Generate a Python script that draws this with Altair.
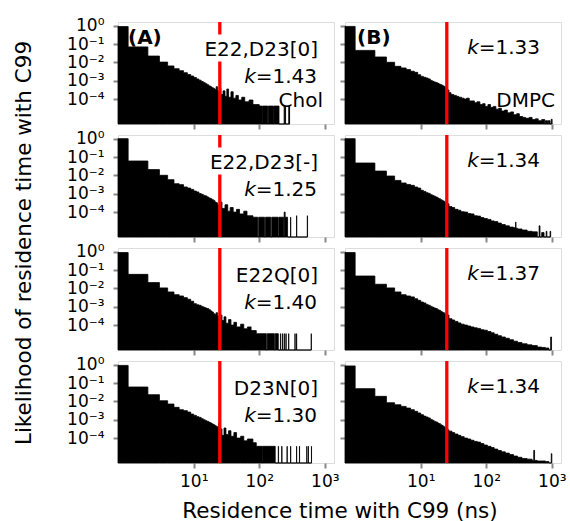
import math
import altair as alt
import pandas as pd

# Axis limits: residence time in ns (x), likelihood exponent (y)
X_LIMITS = [0.7, 1380]
Y_LIMIT_EXP = [-5.36, 0.21]
X_TICKS = [10, 100, 1000]
Y_TICKS = [1, 0.1, 0.01, 0.001, 0.0001]
CUTOFF_NS = 25

LEFT_LABELS = ["E22,D23[0]", "E22,D23[-]", "E22Q[0]", "D23N[0]"]
LEFT_K = ["1.43", "1.25", "1.40", "1.30"]
RIGHT_K = ["1.33", "1.34", "1.37", "1.34"]

# log10 likelihood of the 1-ns bins 0-1, 1-2, ..., 24-25 ns
A1_HEAD = [-0.04, -1.15, -1.65, -1.98, -2.19, -2.34, -2.45, -2.56, -2.66, -2.74, -2.82, -2.90, -2.97,
           -3.04, -3.10, -3.16, -3.22, -3.28, -3.33, -3.38, -3.42, -3.48, -3.32, -3.55, -3.65]
A2_HEAD = [0.01, -1.21, -1.68, -1.99, -2.23, -2.45, -2.50, -2.63, -2.69, -2.76, -2.85, -2.90, -2.99,
           -3.03, -3.09, -3.12, -3.18, -3.23, -3.27, -3.32, -3.36, -3.45, -3.49, -3.60, -3.72]
A3_HEAD = [-0.04, -1.23, -1.68, -1.97, -2.19, -2.34, -2.41, -2.50, -2.59, -2.70, -2.83, -2.89, -2.92,
           -2.98, -3.03, -3.07, -3.10, -3.16, -3.23, -3.29, -3.38, -3.41, -3.32, -3.50, -3.61]
A4_HEAD = [-0.03, -1.21, -1.63, -1.96, -2.14, -2.32, -2.45, -2.50, -2.58, -2.69, -2.76, -2.83, -2.87,
           -2.94, -3.00, -3.05, -3.09, -3.14, -3.18, -3.23, -3.27, -3.32, -3.36, -3.41, -3.18]
B1_HEAD = [-0.03, -1.34, -1.70, -1.99, -2.21, -2.30, -2.39, -2.48, -2.54, -2.67, -2.76, -2.81, -2.85,
           -2.90, -2.98, -3.03, -3.07, -3.10, -3.14, -3.18, -3.21, -3.25, -3.29, -3.32, -3.36]
B2_HEAD = [0.01, -1.32, -1.76, -2.03, -2.27, -2.41, -2.49, -2.54, -2.63, -2.69, -2.81, -2.87, -2.94,
           -2.98, -3.05, -3.09, -3.14, -3.18, -3.23, -3.27, -3.32, -3.36, -3.40, -3.45, -3.51]
B3_HEAD = [-0.04, -1.32, -1.77, -1.97, -2.19, -2.34, -2.41, -2.46, -2.56, -2.65, -2.74, -2.79, -2.87,
           -2.92, -2.98, -3.03, -3.07, -3.10, -3.16, -3.19, -3.25, -3.29, -3.32, -3.38, -3.43]
B4_HEAD = [-0.06, -1.30, -1.72, -2.07, -2.18, -2.27, -2.36, -2.45, -2.54, -2.63, -2.72, -2.80, -2.85,
           -2.90, -2.98, -3.03, -3.09, -3.12, -3.18, -3.21, -3.27, -3.31, -3.36, -3.42, -3.49]

# (start ns, end ns, log10 likelihood) for the long-residence tail
A1_TAIL = [(25, 26, -3.40), (26, 28, -3.75), (28, 30, -3.55), (30, 32, -3.85), (32, 34, -3.45),
           (34, 37, -3.90), (37, 40, -3.60), (40, 44, -3.95), (44, 48, -3.80), (48, 54, -4.05),
           (54, 60, -3.90), (60, 70, -4.15), (70, 80, -4.05), (80, 100, -4.30), (100, 110, -4.38),
           (112, 135, -4.38), (138, 165, -4.38), (168, 200, -4.38), (240, 242, -4.38),
           (250, 252, -4.38), (283, 284, -4.38), (289, 290, -4.38)]
A2_TAIL = [(25, 27, -3.45), (27, 30, -3.80), (30, 33, -3.60), (33, 36, -3.95), (36, 40, -3.75),
           (40, 45, -4.00), (45, 50, -3.85), (50, 58, -4.10), (58, 65, -3.95), (65, 80, -4.20),
           (80, 95, -4.28), (98, 120, -4.28), (124, 150, -4.28), (155, 195, -4.28),
           (200, 235, -4.28), (240, 248, -4.00), (248, 270, -4.28), (300, 302, -4.28),
           (370, 373, -4.20), (540, 545, -4.20)]
A3_TAIL = [(25, 27, -3.45), (27, 29, -3.75), (29, 31, -3.55), (31, 34, -3.90), (34, 37, -3.70),
           (37, 41, -4.00), (41, 45, -3.85), (45, 52, -4.10), (52, 58, -3.95), (58, 66, -4.20),
           (66, 75, -4.10), (75, 90, -4.30), (90, 128, -4.47), (132, 170, -4.47),
           (175, 195, -4.47), (210, 212, -4.47), (225, 227, -4.47), (240, 242, -4.47),
           (255, 257, -4.47), (280, 282, -4.47), (350, 352, -4.47), (370, 372, -4.47),
           (620, 623, -4.47)]
A4_TAIL = [(25, 27, -3.50), (27, 29, -3.85), (29, 31, -3.45), (31, 34, -3.80), (34, 37, -3.60),
           (37, 41, -3.90), (41, 45, -3.70), (45, 52, -4.00), (52, 58, -3.90), (58, 66, -4.15),
           (66, 80, -4.05), (80, 90, -4.25), (90, 110, -4.45), (112, 175, -4.45),
           (195, 197, -4.45), (220, 222, -4.45), (265, 267, -4.45), (300, 302, -4.45),
           (370, 372, -4.45), (410, 412, -4.45), (530, 532, -4.45), (560, 562, -4.45),
           (625, 627, -4.45)]
B1_TAIL = [(25, 27, -3.50), (27, 29, -3.65), (29, 32, -3.75), (32, 35, -3.80), (35, 38, -3.85),
           (38, 42, -3.90), (42, 46, -3.95), (46, 50, -4.00), (50, 55, -3.95), (55, 60, -4.10),
           (60, 66, -4.10), (66, 72, -4.20), (72, 80, -4.15), (80, 88, -4.30), (88, 96, -4.25),
           (96, 106, -4.40), (106, 116, -4.30), (116, 128, -4.45), (128, 140, -4.40),
           (140, 155, -4.55), (155, 170, -4.50), (170, 190, -4.65), (190, 210, -4.60),
           (210, 235, -4.75), (235, 260, -4.70), (260, 290, -4.85), (290, 320, -4.80),
           (320, 360, -4.95), (360, 400, -5.00), (400, 450, -5.05), (450, 500, -5.00),
           (500, 560, -5.12), (560, 620, -5.08), (620, 700, -5.18), (700, 780, -5.12),
           (800, 860, -5.18), (880, 940, -5.18), (980, 1010, -5.10)]
B2_TAIL = [(25, 27, -3.55), (27, 30, -3.70), (30, 33, -3.75), (33, 37, -3.85), (37, 41, -3.90),
           (41, 46, -3.98), (46, 52, -4.00), (52, 58, -4.08), (58, 65, -4.10), (65, 73, -4.20),
           (73, 82, -4.22), (82, 92, -4.30), (92, 104, -4.35), (104, 118, -4.40),
           (118, 132, -4.48), (132, 150, -4.52), (150, 170, -4.60), (170, 195, -4.68),
           (195, 225, -4.75), (225, 260, -4.82), (260, 280, -4.85), (280, 284, -4.55),
           (284, 300, -4.88), (300, 350, -4.92), (350, 420, -4.98), (420, 500, -5.05),
           (500, 600, -5.08), (640, 660, -4.75), (700, 760, -5.12), (820, 840, -5.05),
           (940, 960, -5.05)]
B3_TAIL = [(25, 27, -3.45), (27, 30, -3.65), (30, 33, -3.72), (33, 37, -3.80), (37, 41, -3.88),
           (41, 46, -3.95), (46, 52, -4.00), (52, 58, -4.05), (58, 65, -4.10), (65, 73, -4.15),
           (73, 82, -4.18), (82, 92, -4.25), (92, 104, -4.28), (104, 118, -4.35),
           (118, 132, -4.42), (132, 150, -4.50), (150, 170, -4.58), (170, 195, -4.65),
           (195, 225, -4.72), (225, 260, -4.80), (260, 300, -4.88), (300, 350, -4.95),
           (350, 420, -5.02), (420, 500, -5.08), (500, 600, -5.12), (600, 700, -5.20),
           (700, 800, -5.22), (820, 900, -5.25), (960, 990, -4.65)]
B4_TAIL = [(25, 27, -3.55), (27, 30, -3.62), (30, 33, -3.70), (33, 37, -3.78), (37, 41, -3.85),
           (41, 46, -3.92), (46, 52, -4.00), (52, 58, -4.05), (58, 65, -4.12), (65, 73, -4.18),
           (73, 82, -4.22), (82, 92, -4.30), (92, 104, -4.38), (104, 118, -4.45),
           (118, 132, -4.52), (132, 150, -4.60), (150, 170, -4.68), (170, 195, -4.75),
           (195, 225, -4.82), (225, 260, -4.90), (260, 300, -4.98), (300, 350, -5.05),
           (350, 420, -5.12), (420, 500, -5.15), (500, 530, -5.22), (530, 545, -4.67),
           (545, 600, -5.22), (600, 700, -5.25), (700, 800, -5.25), (820, 900, -5.28),
           (980, 1000, -4.85)]

HEADS = [[A1_HEAD, A2_HEAD, A3_HEAD, A4_HEAD], [B1_HEAD, B2_HEAD, B3_HEAD, B4_HEAD]]
TAILS = [[A1_TAIL, A2_TAIL, A3_TAIL, A4_TAIL], [B1_TAIL, B2_TAIL, B3_TAIL, B4_TAIL]]

FONT = "DejaVu Sans"
PANEL_W, PANEL_H, GAP = 216, 102, 11
TEXT_SIZE = 20
TICK_SIZE = 17
TITLE_SIZE = 21.5

# DejaVu Sans advance widths (em) used to place adjacent text runs
ADV = {"=": 0.838, ".": 0.318, ",": 0.318, "[": 0.390, "]": 0.390, "-": 0.361,
       "E": 0.632, "D": 0.770, "Q": 0.787, "N": 0.748}
for d in "0123456789":
    ADV[d] = 0.636

SUP = str.maketrans("-0123456789", "⁻⁰¹²³⁴⁵⁶⁷⁸⁹")


def text_width(s, size):
    return sum(ADV.get(ch, 0.6) for ch in s) * size


def pow_label_expr(values):
    """Vega expression turning 10^n tick values into '10ⁿ' labels."""
    expr = "''"
    for v in values:
        e = round(math.log10(v))
        expr = f"(round(log(datum.value)/LN10) == {e} ? '10{str(e).translate(SUP)}' : {expr})"
    return expr


def histogram_outline(head, tail):
    """Step outline of the histogram: one point per bin start, dropping to the floor in gaps."""
    bins = [(max(i, X_LIMITS[0]), i + 1, h) for i, h in enumerate(head)] + list(tail)
    floor = 10 ** Y_LIMIT_EXP[0]
    pts = []
    for k, (a, b, h) in enumerate(bins):
        pts.append({"x0": a, "top": 10 ** h})
        nxt = bins[k + 1][0] if k + 1 < len(bins) else None
        if nxt is None or nxt > b:
            pts.append({"x0": b, "top": floor})
    return pd.DataFrame(pts)


def text_layer(s, x, y, align="right", **kw):
    return alt.Chart(pd.DataFrame({"t": [s]})).mark_text(
        align=align, baseline="alphabetic", font=FONT, fontSize=TEXT_SIZE, color="black", **kw
    ).encode(text="t:N", x=alt.value(x), y=alt.value(y))


def panel(r, c):
    bars_df = histogram_outline(HEADS[c][r], TAILS[c][r])

    xscale = alt.Scale(type="log", domain=X_LIMITS, nice=False)
    yscale = alt.Scale(type="log", domain=[10 ** Y_LIMIT_EXP[0], 10 ** Y_LIMIT_EXP[1]], nice=False)

    xkw = dict(values=X_TICKS, tickSize=5, tickWidth=2, domain=False, grid=False,
               labels=(r == 3), title=None)
    if r == 3:
        xkw.update(labelExpr=pow_label_expr(X_TICKS), labelFontSize=TICK_SIZE, labelPadding=5,
                   labelFont=FONT)
    if r == 3 and c == 0:
        xkw.update(title="Residence time with C99 (ns)", titleX=(2 * PANEL_W + GAP) / 2,
                   titleY=54, titleAlign="center", titleBaseline="alphabetic",
                   titleFontSize=TITLE_SIZE, titleFontWeight="normal", titleFont=FONT)
    ykw = dict(values=Y_TICKS, tickSize=5, tickWidth=2, domain=False, grid=False,
               labels=(c == 0), title=None)
    if c == 0:
        ykw.update(labelExpr=pow_label_expr(Y_TICKS), labelFontSize=TICK_SIZE, labelPadding=9,
                   labelFont=FONT)
    if r == 0 and c == 0:
        ykw.update(title="Likelihood of residence time with C99", titleX=-88,
                   titleY=(4 * PANEL_H + 3 * GAP) / 2, titleAngle=270, titleAlign="center",
                   titleBaseline="alphabetic", titleFontSize=TITLE_SIZE,
                   titleFontWeight="normal", titleFont=FONT)
    xaxis = alt.Axis(**xkw)
    yaxis = alt.Axis(**ykw)

    bars = alt.Chart(bars_df).mark_area(
        color="black", interpolate="step-after", stroke="black", strokeWidth=0.8
    ).encode(
        x=alt.X("x0:Q", scale=xscale, axis=xaxis),
        y=alt.Y("top:Q", scale=yscale, axis=yaxis),
        y2=alt.datum(10 ** Y_LIMIT_EXP[0]),
    )
    cutoff = alt.Chart(pd.DataFrame({"x0": [CUTOFF_NS]})).mark_rule(
        color="red", strokeWidth=3.3
    ).encode(x=alt.X("x0:Q", scale=xscale, axis=xaxis))

    layers = [bars, cutoff]
    if c == 0:
        label = LEFT_LABELS[r]
        w = text_width(label, TEXT_SIZE)
        box = alt.Chart(pd.DataFrame({"t": [label]})).mark_rect(color="white").encode(
            x=alt.value(200 - w - 5), x2=alt.value(205),
            y=alt.value(33.5 - 21), y2=alt.value(33.5 + 6),
        )
        layers.append(box)
        layers.append(text_layer(label, 200, 33.5))
        kval = "=" + LEFT_K[r]
        layers.append(text_layer(kval, 199, 60.5))
        layers.append(text_layer("k", 199 - text_width(kval, TEXT_SIZE), 60.5, fontStyle="italic"))
        if r == 0:
            layers.append(text_layer("(A)", 10, 22, align="left", fontWeight="bold"))
            layers.append(text_layer("Chol", 205, 84.8))
    else:
        kval = "=" + RIGHT_K[r]
        layers.append(text_layer(kval, 195, 31.5))
        layers.append(text_layer("k", 195 - text_width(kval, TEXT_SIZE), 31.5, fontStyle="italic"))
        if r == 0:
            layers.append(text_layer("(B)", 12, 21.5, align="left", fontWeight="bold"))
            layers.append(text_layer("DMPC", 210, 85.3))

    return alt.layer(*layers).properties(width=PANEL_W, height=PANEL_H)


panels = [panel(r, c) for r in range(4) for c in range(2)]

chart = alt.concat(*panels, columns=2, spacing=GAP, bounds="flush").properties(
    padding={"left": 12, "top": 16, "right": 0, "bottom": 0}
).configure_view(
    stroke="black", strokeWidth=2
).configure_axis(
    tickColor="black", labelColor="black", titleColor="black"
).configure(font=FONT)

chart.save("out.html", embed_options={"renderer": "svg", "actions": False})
